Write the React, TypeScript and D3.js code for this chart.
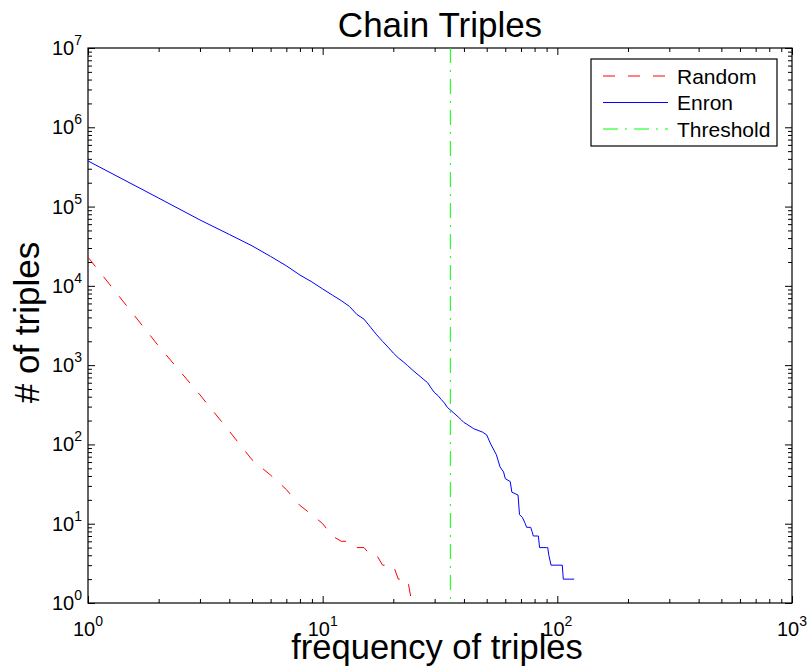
import { useEffect, useRef } from 'react';
import * as d3 from 'd3';

// Random graph baseline: frequency -> number of triples
const randomX = [1, 2, 3, 4, 5, 6, 7, 8, 9, 10, 11, 12, 13, 14, 15, 16, 17, 18, 20, 21, 23, 24];
const randomY = [23000, 1740, 422, 147, 64, 41, 27, 17, 13, 10, 7, 6, 6, 5, 5, 4, 4, 3, 3, 2, 2, 1];

// Enron email data
const enronX = [
  1, 2, 3, 4, 5, 6, 7, 8, 9, 10, 11, 12, 13, 14, 15, 16, 17, 18, 19, 20,
  21, 22, 23, 24, 25, 26, 27, 28, 29, 30, 31, 32, 33, 34, 35, 36, 37, 38, 39, 40,
  41, 44, 48, 50, 52, 55, 57, 59, 60, 63, 64, 68, 69, 71, 73, 74, 77, 78, 79, 83,
  84, 90, 91, 92, 94, 105, 106, 118,
];
const enronY = [
  376000, 128000, 67800, 44500, 32000, 23500, 17900, 13700, 11200, 9140, 7640, 6510, 5510, 4350, 3800, 3006, 2410, 1995, 1687, 1422,
  1236, 1109, 988, 883, 794, 722, 656, 601, 513, 448, 414, 369, 334, 293, 272, 253, 235, 219, 204, 189,
  181, 158, 143, 132, 101, 74, 52, 45, 37, 34, 25, 23, 13, 12, 10, 9, 9, 8, 7, 7,
  5, 5, 5, 4, 3, 3, 2, 2,
];

const threshold = 35;

const xDecades = [0, 1, 2, 3];
const yDecades = [0, 1, 2, 3, 4, 5, 6, 7];

const legendItems = [
  { name: 'Random', color: '#ff0000', dash: '12,13' },
  { name: 'Enron', color: '#0000ff', dash: null },
  { name: 'Threshold', color: '#00ff00', dash: '15,7,2,7' },
];

const font = 'Liberation Sans, Arial, Helvetica, sans-serif';

const App = () => {
  const svgRef = useRef<SVGSVGElement>(null);

  useEffect(() => {
    const width = 812;
    const height = 671;
    const margin = { top: 48, right: 20, bottom: 68, left: 88 };

    const svg = d3.select(svgRef.current);
    svg.selectAll('*').remove();

    const x = d3.scaleLog().domain([1, 1000]).range([margin.left, width - margin.right]);
    const y = d3.scaleLog().domain([1, 1e7]).range([height - margin.bottom, margin.top]);

    const isPow = (t: number) => Math.abs(Math.log10(t) - Math.round(Math.log10(t))) < 1e-9;
    const xMajor = xDecades.map(d => 10 ** d);
    const yMajor = yDecades.map(d => 10 ** d);
    const xMinor = x.ticks().filter(t => !isPow(t));
    const yMinor = y.ticks().filter(t => !isPow(t));

    svg.append('rect').attr('width', width).attr('height', height).attr('fill', '#fff');

    svg.append('defs').append('clipPath').attr('id', 'plot-clip')
      .append('rect')
      .attr('x', margin.left)
      .attr('y', margin.top)
      .attr('width', width - margin.left - margin.right)
      .attr('height', height - margin.top - margin.bottom);

    // ticks on all four sides, pointing inward
    const addAxis = (axis: any, transform: string) => {
      svg.append('g')
        .attr('transform', transform)
        .call(axis)
        .call((g: any) => g.select('.domain').remove())
        .call((g: any) => g.selectAll('text').remove());
    };
    const bottom = `translate(0,${height - margin.bottom})`;
    const top = `translate(0,${margin.top})`;
    const left = `translate(${margin.left},0)`;
    const right = `translate(${width - margin.right},0)`;
    addAxis(d3.axisBottom(x).tickValues(xMinor).tickSize(-4), bottom);
    addAxis(d3.axisBottom(x).tickValues(xMajor).tickSize(-7), bottom);
    addAxis(d3.axisTop(x).tickValues(xMinor).tickSize(-4), top);
    addAxis(d3.axisTop(x).tickValues(xMajor).tickSize(-7), top);
    addAxis(d3.axisLeft(y).tickValues(yMinor).tickSize(-4), left);
    addAxis(d3.axisLeft(y).tickValues(yMajor).tickSize(-7), left);
    addAxis(d3.axisRight(y).tickValues(yMinor).tickSize(-4), right);
    addAxis(d3.axisRight(y).tickValues(yMajor).tickSize(-7), right);

    svg.append('rect')
      .attr('x', margin.left)
      .attr('y', margin.top)
      .attr('width', width - margin.left - margin.right)
      .attr('height', height - margin.top - margin.bottom)
      .attr('fill', 'none')
      .attr('stroke', '#000')
      .attr('stroke-width', 1.2);

    // tick labels with superscript exponents
    xDecades.forEach(d => {
      const t = svg.append('text')
        .attr('x', x(10 ** d))
        .attr('y', height - margin.bottom + 33)
        .attr('text-anchor', 'middle')
        .attr('font-family', font)
        .attr('font-size', 20);
      t.append('tspan').text('10');
      t.append('tspan').attr('dy', -10).attr('font-size', 14).text(d);
    });
    yDecades.forEach(d => {
      const t = svg.append('text')
        .attr('x', margin.left - 6)
        .attr('y', y(10 ** d) + 7)
        .attr('text-anchor', 'end')
        .attr('font-family', font)
        .attr('font-size', 20);
      t.append('tspan').text('10');
      t.append('tspan').attr('dy', -10).attr('font-size', 14).text(d);
    });

    const line = d3.line<[number, number]>().x(d => x(d[0])).y(d => y(d[1]));
    const plot = svg.append('g').attr('clip-path', 'url(#plot-clip)');

    plot.append('path')
      .attr('d', line(randomX.map((v, i) => [v, randomY[i]] as [number, number])))
      .attr('fill', 'none')
      .attr('stroke', legendItems[0].color)
      .attr('stroke-dasharray', legendItems[0].dash)
      .attr('stroke-width', 1);

    plot.append('path')
      .attr('d', line(enronX.map((v, i) => [v, enronY[i]] as [number, number])))
      .attr('fill', 'none')
      .attr('stroke', legendItems[1].color)
      .attr('stroke-width', 1);

    plot.append('line')
      .attr('x1', x(threshold))
      .attr('x2', x(threshold))
      .attr('y1', y(1e7))
      .attr('y2', y(1))
      .attr('stroke', legendItems[2].color)
      .attr('stroke-dasharray', legendItems[2].dash)
      .attr('stroke-width', 1);

    // legend
    const lg = svg.append('g').attr('transform', 'translate(591,59)');
    lg.append('rect')
      .attr('width', 186)
      .attr('height', 87)
      .attr('fill', '#fff')
      .attr('stroke', '#000')
      .attr('stroke-width', 1.2);
    legendItems.forEach((item, i) => {
      const cy = 17 + i * 26.5;
      lg.append('line')
        .attr('x1', 12)
        .attr('x2', 77)
        .attr('y1', cy)
        .attr('y2', cy)
        .attr('stroke', item.color)
        .attr('stroke-dasharray', item.dash)
        .attr('stroke-width', 1);
      lg.append('text')
        .attr('x', 86)
        .attr('y', cy + 7.5)
        .attr('font-family', font)
        .attr('font-size', 21)
        .text(item.name);
    });

    svg.append('text')
      .attr('x', (margin.left + width - margin.right) / 2)
      .attr('y', 37)
      .attr('text-anchor', 'middle')
      .attr('font-family', font)
      .attr('font-size', 35)
      .text('Chain Triples');

    svg.append('text')
      .attr('x', (margin.left + width - margin.right) / 2 - 3)
      .attr('y', 659)
      .attr('text-anchor', 'middle')
      .attr('font-family', font)
      .attr('font-size', 34.5)
      .text('frequency of triples');

    svg.append('text')
      .attr('transform', `translate(39,${(margin.top + height - margin.bottom) / 2 - 3}) rotate(-90)`)
      .attr('text-anchor', 'middle')
      .attr('font-family', font)
      .attr('font-size', 35)
      .text('# of triples');
  }, []);

  return (
    <svg
      ref={svgRef}
      width={812}
      height={671}
      style={{ position: 'absolute', left: 0, top: 0 }}
    />
  );
};

export default App;
